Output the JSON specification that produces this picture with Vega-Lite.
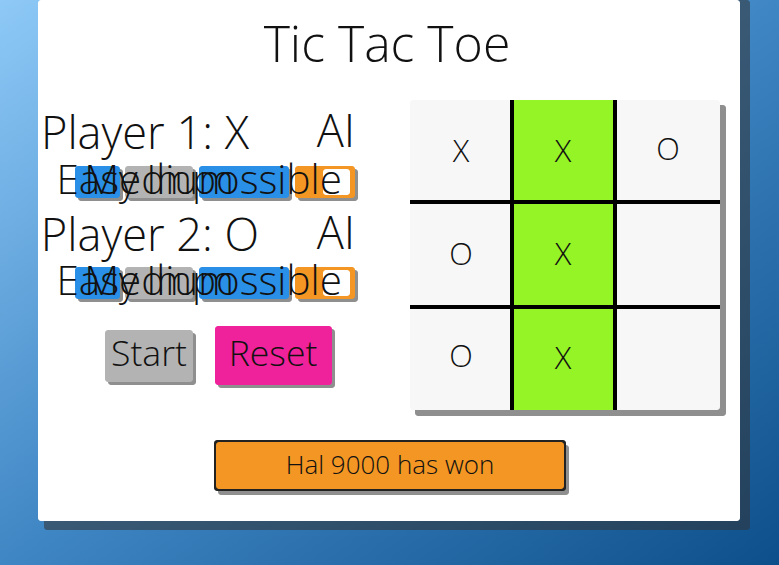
{
  "$schema": "https://vega.github.io/schema/vega-lite/v6.json",
  "autosize": {"type": "fit", "contains": "padding"},
  "width": 779,
  "height": 565,
  "padding": 0,
  "view": {"stroke": null},
  "datasets": {
    "bg": [{"x": 0, "x2": 779, "y": 0, "y2": 565}],
    "boxes": [
      {"role": "shadow", "x": 44, "x2": 750, "y": 0, "y2": 530},
      {"role": "panel", "x": 38, "x2": 740, "y": 0, "y2": 521},
      {"role": "shadow", "x": 78, "x2": 123, "y": 169, "y2": 201},
      {"role": "shadow", "x": 128, "x2": 196, "y": 169, "y2": 201},
      {"role": "shadow", "x": 202, "x2": 292, "y": 169, "y2": 201},
      {"role": "shadow", "x": 298, "x2": 358, "y": 169, "y2": 201},
      {"role": "shadow", "x": 78, "x2": 123, "y": 270, "y2": 302},
      {"role": "shadow", "x": 128, "x2": 196, "y": 270, "y2": 302},
      {"role": "shadow", "x": 202, "x2": 292, "y": 270, "y2": 302},
      {"role": "shadow", "x": 298, "x2": 358, "y": 270, "y2": 302},
      {"role": "shadow", "x": 108, "x2": 196, "y": 333, "y2": 385},
      {"role": "shadow", "x": 218, "x2": 335, "y": 329, "y2": 388},
      {"role": "shadow", "x": 415, "x2": 726, "y": 105, "y2": 416},
      {"role": "shadow", "x": 218, "x2": 569, "y": 445, "y2": 495},
      {"role": "blue", "x": 75, "x2": 120, "y": 166, "y2": 198},
      {"role": "grey", "x": 125, "x2": 193, "y": 166, "y2": 198},
      {"role": "blue", "x": 199, "x2": 289, "y": 166, "y2": 198},
      {"role": "orange", "x": 295, "x2": 355, "y": 166, "y2": 198},
      {"role": "knob", "x": 323, "x2": 350, "y": 169, "y2": 195},
      {"role": "blue", "x": 75, "x2": 120, "y": 267, "y2": 299},
      {"role": "grey", "x": 125, "x2": 193, "y": 267, "y2": 299},
      {"role": "blue", "x": 199, "x2": 289, "y": 267, "y2": 299},
      {"role": "orange", "x": 295, "x2": 355, "y": 267, "y2": 299},
      {"role": "knob", "x": 323, "x2": 350, "y": 270, "y2": 296},
      {"role": "grey", "x": 105, "x2": 193, "y": 330, "y2": 382},
      {"role": "pink", "x": 215, "x2": 332, "y": 326, "y2": 385},
      {"role": "cell", "x": 410, "x2": 720, "y": 100, "y2": 410},
      {"role": "green", "x": 512, "x2": 615, "y": 100, "y2": 410},
      {"role": "border", "x": 214, "x2": 566, "y": 440, "y2": 491},
      {"role": "orange", "x": 216, "x2": 564, "y": 442, "y2": 489}
    ],
    "lines": [
      {"x": 512, "x2": 512, "y": 100, "y2": 410},
      {"x": 615, "x2": 615, "y": 100, "y2": 410},
      {"x": 410, "x2": 720, "y": 202, "y2": 202},
      {"x": 410, "x2": 720, "y": 307, "y2": 307}
    ],
    "labels": [
      {"kind": "title", "x": 387, "y": 47, "text": "Tic Tac Toe"},
      {"kind": "label", "x": 145, "y": 135, "text": "Player 1: X"},
      {"kind": "label", "x": 336, "y": 133, "text": "AI"},
      {"kind": "label", "x": 150, "y": 237, "text": "Player 2: O"},
      {"kind": "label", "x": 336, "y": 235, "text": "AI"},
      {"kind": "btn", "x": 97, "y": 182, "text": "Easy"},
      {"kind": "btn", "x": 159, "y": 182, "text": "Medium"},
      {"kind": "btn", "x": 244, "y": 182, "text": "Impossible"},
      {"kind": "btn", "x": 97, "y": 283, "text": "Easy"},
      {"kind": "btn", "x": 159, "y": 283, "text": "Medium"},
      {"kind": "btn", "x": 244, "y": 283, "text": "Impossible"},
      {"kind": "big", "x": 149, "y": 355, "text": "Start"},
      {"kind": "big", "x": 273, "y": 355, "text": "Reset"},
      {"kind": "cell", "x": 461, "y": 153, "text": "X"},
      {"kind": "cell", "x": 563, "y": 153, "text": "X"},
      {"kind": "cell", "x": 668, "y": 151, "text": "O"},
      {"kind": "cell", "x": 461, "y": 256, "text": "O"},
      {"kind": "cell", "x": 563, "y": 256, "text": "X"},
      {"kind": "cell", "x": 461, "y": 358, "text": "O"},
      {"kind": "cell", "x": 563, "y": 360, "text": "X"},
      {"kind": "status", "x": 390, "y": 466, "text": "Hal 9000 has won"}
    ]
  },
  "encoding": {
    "x": {"field": "x", "type": "quantitative", "axis": null, "scale": {"domain": [0, 779], "nice": false, "zero": false}},
    "y": {"field": "y", "type": "quantitative", "axis": null, "scale": {"domain": [0, 565], "nice": false, "zero": false, "reverse": true}}
  },
  "layer": [
    {
      "data": {"name": "bg"},
      "mark": {"type": "rect", "color": {"gradient": "linear", "x1": 0, "y1": 0, "x2": 1, "y2": 1, "stops": [{"offset": 0, "color": "#8ec9f7"}, {"offset": 0.5, "color": "#3f86c4"}, {"offset": 1, "color": "#0d4f8a"}]}},
      "encoding": {"x2": {"field": "x2"}, "y2": {"field": "y2"}}
    },
    {
      "data": {"name": "boxes"},
      "mark": {"type": "rect", "cornerRadius": 3},
      "encoding": {
        "x2": {"field": "x2"}, "y2": {"field": "y2"},
        "color": {"field": "role", "type": "nominal", "legend": null, "scale": {
          "domain": ["shadow", "panel", "blue", "grey", "orange", "knob", "pink", "cell", "green", "border"],
          "range": ["#333333", "#ffffff", "#2a8fe6", "#b3b3b3", "#f39623", "#ffffff", "#f0229b", "#f7f7f7", "#95f425", "#222222"]}},
        "opacity": {"condition": {"test": "datum.role == 'shadow'", "value": 0.55}, "value": 1}
      }
    },
    {
      "data": {"name": "lines"},
      "mark": {"type": "rule", "color": "#000000", "strokeWidth": 4},
      "encoding": {"x2": {"field": "x2"}, "y2": {"field": "y2"}}
    },
    {
      "data": {"name": "labels"},
      "mark": {"type": "text", "font": "Open Sans", "fontWeight": 300, "color": "#111111", "align": "center", "baseline": "middle"},
      "encoding": {
        "text": {"field": "text"},
        "size": {"field": "kind", "type": "nominal", "legend": null, "scale": {"domain": ["title", "label", "btn", "big", "cell", "status"], "range": [50, 26, 15, 29, 62, 17]}}
      }
    }
  ]
}
